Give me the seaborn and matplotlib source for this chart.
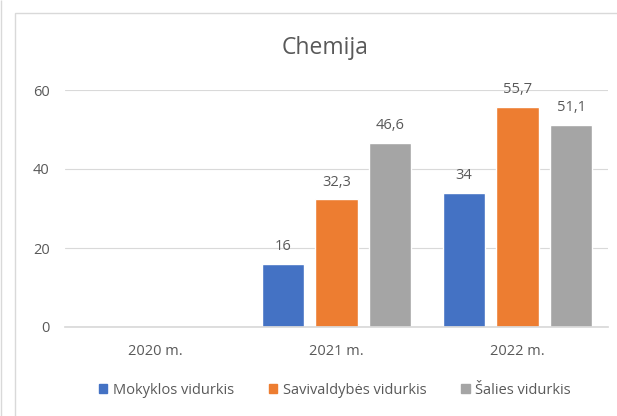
import pandas as pd
import numpy as np
import seaborn as sns
import matplotlib.pyplot as plt
from matplotlib.patches import Rectangle

# duomenys
metai = ["2020 m.", "2021 m.", "2022 m."]
serijos = ["Mokyklos vidurkis", "Savivaldybės vidurkis", "Šalies vidurkis"]
mokyklos = [np.nan, 16, 34]
savivaldybes = [np.nan, 32.3, 55.7]
salies = [np.nan, 46.6, 51.1]
y_ticks = [0, 20, 40, 60]

spalvos = ["#4472C4", "#ED7D31", "#A5A5A5"]
teksto_spalva = "#595959"

df = pd.DataFrame({
    "metai": metai * 3,
    "serija": [serijos[0]] * 3 + [serijos[1]] * 3 + [serijos[2]] * 3,
    "reiksme": mokyklos + savivaldybes + salies,
})

sns.set_theme(style="white")
plt.rcParams["font.family"] = ["Open Sans", "DejaVu Sans"]

fig = plt.figure(figsize=(6.17, 4.16), dpi=100)
fig.patches.append(Rectangle((15 / 617, -0.01), 0.99, 1 - 13 / 416 + 0.01,
                             transform=fig.transFigure, fill=False,
                             edgecolor="#D9D9D9", linewidth=1))
fig.patches.append(Rectangle((1 / 617, 0), 0, 1, transform=fig.transFigure,
                             fill=False, edgecolor="#D9D9D9", linewidth=1))

ax = fig.add_axes([65 / 617, 89 / 416, 543 / 617, 237 / 416])
sns.barplot(data=df, x="metai", y="reiksme", hue="serija", order=metai,
            hue_order=serijos, palette=spalvos, width=0.887, gap=0.2,
            ax=ax, legend=True, saturation=1)

for cont in ax.containers:
    labels = []
    for b in cont:
        h = b.get_height()
        if np.isnan(h):
            labels.append("")
        else:
            labels.append(("%g" % h).replace(".", ","))
    ax.bar_label(cont, labels=labels, padding=7, fontsize=10.5, color=teksto_spalva)

ax.set_ylim(0, 60)
ax.set_yticks(y_ticks)
ax.set_xlim(-0.5, 2.5)
ax.yaxis.grid(True, color="#D9D9D9", linewidth=0.8)
ax.set_axisbelow(True)
for s in ["top", "right", "left"]:
    ax.spines[s].set_visible(False)
ax.spines["bottom"].set_color("#D9D9D9")
ax.tick_params(axis="both", length=0, labelsize=10.5, colors=teksto_spalva)
ax.tick_params(axis="x", pad=12)
ax.tick_params(axis="y", pad=11)
ax.set_xlabel("")
ax.set_ylabel("")

fig.text(325 / 617, 1 - 48 / 416, "Chemija", ha="center", va="center",
         fontsize=16.5, color=teksto_spalva)

ax.legend_.remove()
handles = [Rectangle((0, 0), 1, 1, color=c) for c in spalvos]
fig.legend(handles, serijos, loc="center", bbox_to_anchor=(335 / 617, 1 - 390 / 416),
           ncol=3, frameon=False, fontsize=10.5, handlelength=0.55, handleheight=0.55,
           handletextpad=0.4, columnspacing=2.4, labelcolor=teksto_spalva)

plt.savefig("out.png", dpi=100)
